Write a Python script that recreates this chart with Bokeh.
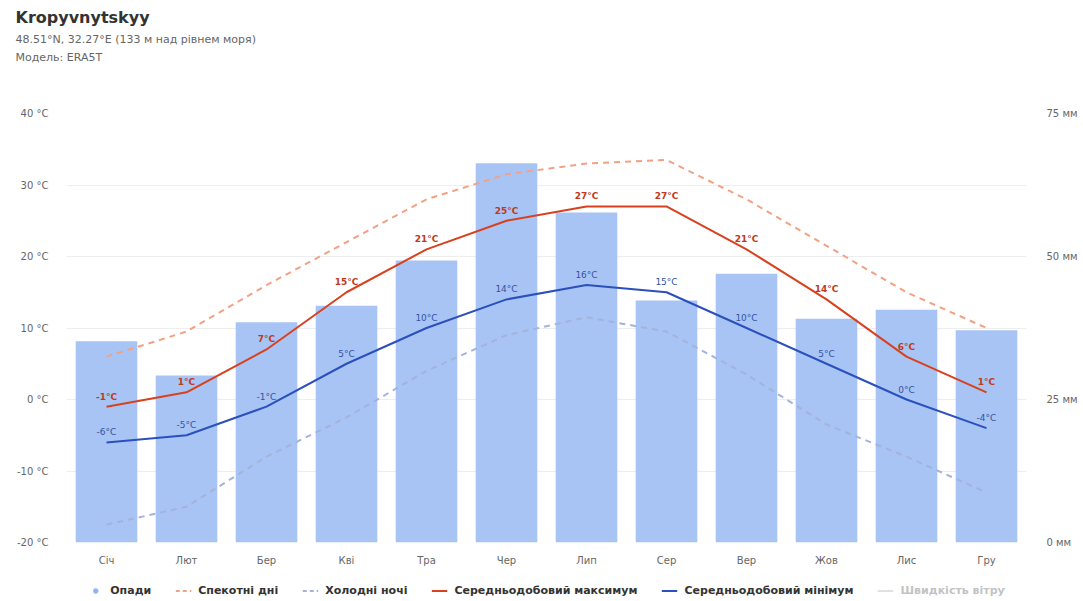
from bokeh.plotting import figure
from bokeh.layouts import column
from bokeh.models import (Range1d, LinearAxis, FixedTicker, Title, Legend, LegendItem,
                          FactorRange, ColumnDataSource)
from bokeh.core.properties import value
from bokeh.embed import file_html
from bokeh.resources import INLINE

# ---- data ----
months = ["Січ", "Лют", "Бер", "Кві", "Тра", "Чер", "Лип", "Сер", "Вер", "Жов", "Лис", "Гру"]
precip_mm = [35.2, 29.2, 38.5, 41.4, 49.3, 66.3, 57.7, 42.3, 47.0, 39.1, 40.7, 37.1]
hot_days = [6.0, 9.5, 16.0, 22.0, 28.0, 31.5, 33.0, 33.5, 28.0, 21.5, 15.0, 10.0]
cold_nights = [-17.5, -15.0, -8.0, -2.5, 4.0, 9.0, 11.5, 9.5, 3.5, -3.5, -8.0, -13.0]
mean_max = [-1, 1, 7, 15, 21, 25, 27, 27, 21, 14, 6, 1]
mean_min = [-6, -5, -1, 5, 10, 14, 16, 15, 10, 5, 0, -4]

temp_ticks = [-20, -10, 0, 10, 20, 30, 40]
mm_ticks = [0, 25, 50, 75]

title_text = "Kropyvnytskyy"
subtitle1 = "48.51°N, 32.27°E (133 м над рівнем моря)"
subtitle2 = "Модель: ERA5T"
legend_labels = ["Опади", "Спекотні дні", "Холодні ночі", "Середньодобовий максимум",
                 "Середньодобовий мінімум", "Швидкість вітру"]

FONT = "DejaVu Sans"
C_BAR = "#a7c4f5"
C_HOT = "#f3a184"
C_COLD = "#a3b3da"
C_MAX = "#d9411e"
C_MIN = "#2b4fbd"

src = ColumnDataSource(dict(m=months, p=precip_mm, hot=hot_days, cold=cold_nights,
                            mx=mean_max, mn=mean_min,
                            mxl=[f"{v}°C" for v in mean_max], mnl=[f"{v}°C" for v in mean_min]))

p = figure(width=1083, height=579, x_range=FactorRange(*months, range_padding=0),
           y_range=Range1d(-20, 40), output_backend="svg", toolbar_location=None,
           min_border_left=66, min_border_right=57, min_border_bottom=37, min_border_top=113,
           outline_line_color=None)
p.extra_y_ranges = {"mm": Range1d(0, 75)}

# titles (first added is closest to plot)
p.add_layout(Title(text=" ", text_font_size="10px", standoff=37), "above")
p.add_layout(Title(text=subtitle2, text_font_size="11px", text_font=FONT, text_color="#666666",
                   text_font_style="normal", align="left", offset=-51, standoff=0), "above")
p.add_layout(Title(text=subtitle1, text_font_size="11px", text_font=FONT, text_color="#666666",
                   text_font_style="normal", align="left", offset=-51, standoff=5), "above")
p.title.text = title_text
p.title.text_font_size = "16px"
p.title.text_font = FONT
p.title.text_color = "#333333"
p.title.align = "left"
p.title.offset = -51
p.title.standoff = 4

p.vbar(x="m", top="p", bottom=0, width=0.77, source=src, y_range_name="mm",
       fill_color=C_BAR, line_color=None)
p.line(x="m", y="hot", source=src, line_color=C_HOT, line_width=2, line_dash="6 5")
p.line(x="m", y="cold", source=src, line_color=C_COLD, line_width=2, line_dash="6 5")
p.line(x="m", y="mx", source=src, line_color=C_MAX, line_width=2)
p.line(x="m", y="mn", source=src, line_color=C_MIN, line_width=2)

p.text(x="m", y="mx", text="mxl", source=src, y_offset=-5, text_align="center",
       text_baseline="bottom", text_font_size="9px", text_color="#c0391b",
       text_font=value(FONT), text_font_style="bold")
p.text(x="m", y="mn", text="mnl", source=src, y_offset=-5, text_align="center",
       text_baseline="bottom", text_font_size="9px", text_color="#34539e",
       text_font=value(FONT))

# axes
p.yaxis.ticker = FixedTicker(ticks=temp_ticks)
p.yaxis.major_label_overrides = {t: f"{t} °C" for t in temp_ticks}
right = LinearAxis(y_range_name="mm", ticker=FixedTicker(ticks=mm_ticks),
                   major_label_overrides={t: f"{t} мм" for t in mm_ticks})
p.add_layout(right, "right")
for ax in [p.yaxis[0], right, p.xaxis[0]]:
    ax.axis_line_color = None
    ax.major_tick_line_color = None
    ax.minor_tick_line_color = None
    ax.major_label_text_color = "#666666"
    ax.major_label_text_font_size = "10px"
    ax.major_label_text_font = FONT
p.yaxis[0].major_label_standoff = 12
right.major_label_standoff = 14
p.xaxis.major_label_standoff = 6

p.xgrid.grid_line_color = None
p.ygrid.ticker = FixedTicker(ticks=temp_ticks)
p.ygrid.grid_line_color = "#eeeeee"

# ---- legend strip (separate figure; its glyphs lie outside its ranges) ----
lg = figure(width=1083, height=22, x_range=FactorRange(*months), y_range=Range1d(1000, 1001),
            output_backend="svg", toolbar_location=None, min_border=0,
            outline_line_color=None, x_axis_location=None, y_axis_location=None)
lg.xgrid.visible = False
lg.ygrid.visible = False
r_dot = lg.scatter(x="m", y="p", source=src, size=9, marker="circle",
                   fill_color="#8fb3f0", line_color=C_BAR)
r_hot = lg.line(x="m", y="hot", source=src, line_color=C_HOT, line_width=2, line_dash="4 3")
r_cold = lg.line(x="m", y="cold", source=src, line_color=C_COLD, line_width=2, line_dash="4 3")
r_max = lg.line(x="m", y="mx", source=src, line_color=C_MAX, line_width=2)
r_min = lg.line(x="m", y="mn", source=src, line_color=C_MIN, line_width=2)
r_wind = lg.line(x="m", y="mn", source=src, line_color="#999999", line_width=2, visible=False)
rends = [r_dot, r_hot, r_cold, r_max, r_min, r_wind]
legend = Legend(items=[LegendItem(label=l, renderers=[r]) for l, r in zip(legend_labels, rends)],
                orientation="horizontal", location="center", border_line_color=None,
                background_fill_alpha=0, click_policy="hide",
                inactive_fill_color="white", inactive_fill_alpha=0.7,
                label_text_font_size="11px", label_text_font=FONT, label_text_font_style="bold",
                label_text_color="#333333", glyph_width=16, glyph_height=12, label_standoff=7,
                spacing=24, padding=0, margin=0, label_height=12)
lg.add_layout(legend, "center")

layout = column(p, lg, spacing=0)
open("out.html", "w").write(file_html(layout, INLINE))
